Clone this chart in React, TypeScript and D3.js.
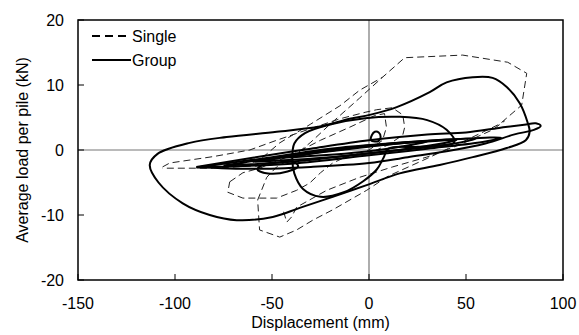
import React from "react";
import * as d3 from "d3";

type P = [number, number];

const xTicks = [-150, -100, -50, 0, 50, 100];
const yTicks = [-20, -10, 0, 10, 20];
const xLabel = "Displacement (mm)";
const yLabel = "Average load per pile (kN)";
const seriesNames = ["Single", "Group"];

// Group (solid) loops
const groupLoopLarge: P[] = [
  [-113, -2.3], [-109, -0.6], [-92.4, 1.1], [-73.4, 2.0], [-47.6, 2.8], [-25.4, 3.6],
  [-10, 4.8], [0.4, 5.4], [14.3, 6.6], [31.3, 8.9], [40, 10.4], [53.5, 11.2],
  [63.7, 11.1], [71, 9.7], [77.7, 7.2], [81.8, 4.2], [82.8, 2.8], [80.8, 1.5],
  [71, 0.3], [53.5, -1.1], [36.4, -2.3], [15.8, -3.6], [-1.2, -5.4], [-18.7, -7.2],
  [-35.7, -8.9], [-49.6, -10.3], [-68.2, -10.8], [-82.1, -10.0], [-96, -8.2], [-108.5, -5.0],
];
const groupLoopMedium: P[] = [
  [44, 1.2], [40, 3.1], [30, 4.6], [16, 5.1], [-2, 4.9], [-19, 4.0], [-33, 2.6],
  [-38.5, 1.0], [-39.5, -1.5], [-38.5, -3.6], [-34, -6.0], [-25, -7.2], [-13, -6.5],
  [-3, -4.8], [4, -3.0], [7.5, -1.2], [10, 0.2], [25, 0.5],
];
const groupLoopSmall: P[] = [
  [-57.5, -3.0], [-54, -2.2], [-46, -1.9], [-39, -1.8], [-36.5, -2.5], [-42, -3.3],
  [-52, -3.6],
];
const groupCurl: P[] = [
  [1, 1.5], [1.5, 2.3], [3, 2.8], [5, 2.7], [6, 2.0], [5, 1.4], [3, 1.3],
];
const groupThinA: P[] = [
  [-89, -2.6], [-60, -1.2], [-30, 0.2], [0, 1.5], [30, 2.4], [50, 2.7], [67, 3.4],
  [80, 3.9], [86, 4.1], [88.5, 3.7], [85, 3.1], [75, 2.4], [60, 1.0], [40, -0.2],
  [20, -1.1], [0, -2.0], [-30, -2.6], [-60, -2.9], [-89, -2.6],
];
const groupThinB: P[] = [
  [-89, -2.7], [-50, -1.1], [-20, 0.2], [10, 1.0], [40, 1.6], [60, 1.9], [68, 1.9],
  [60, 1.3], [30, 0.2], [0, -0.8], [-40, -2.1], [-89, -2.7],
];
const groupThinC: P[] = [
  [-75, -2.4], [-40, -0.8], [0, 0.7], [30, 1.4], [55, 1.7], [40, 0.8], [0, -0.5],
  [-40, -1.8], [-75, -2.4],
];
const groupThinD: P[] = [
  [-60, -1.8], [-20, -0.2], [20, 1.1], [45, 1.5], [20, 0.2], [-20, -1.1], [-60, -1.8],
];
const groupThinE: P[] = [
  [-45, -1.2], [0, 0.6], [30, 1.3], [0, -0.2], [-45, -1.2],
];

// Single (dashed) loops
const singleLoop1: P[] = [
  [-57.4, -7.7], [-52.7, -4.2], [-47.6, -2.6], [-41, -1.5], [-30, 1.2], [-20.3, 3.9],
  [-4.8, 8.0], [7, 11.2], [18.4, 14.2], [48.3, 14.6], [71.5, 13.5], [81.3, 11.8],
  [78.7, 6.9], [67.4, 4.0], [50, 1.5], [30, -1.3], [10, -4.0], [-1.2, -6.2],
  [-18.7, -9.2], [-29, -10.8], [-37.3, -12.3], [-46, -13.4], [-56.4, -12.3], [-57.4, -7.7],
];
const singleLoop2: P[] = [
  [-71.8, -4.9], [-65, -3.5], [-56.4, -2.8], [-40, -0.8], [-25, 1.5], [-10, 3.5],
  [3, 5.3], [8, 5.6], [9, 3.5], [7, 1.5], [0, 0.0], [-10, -0.8], [-18.7, -2.0],
  [-25, -3.5], [-30.6, -5.1], [-37.3, -6.2], [-47.6, -7.4], [-65, -7.4], [-72.8, -6.5],
  [-71.8, -4.9],
];
const singleLoop3: P[] = [
  [-44, -9.5], [-42.4, -11.1], [-39.9, -10.3], [-37.3, -8.8], [-21.8, -6.2], [-4.8, -4.2],
  [12.2, -2.6], [29.7, -1.1], [46.7, 0.8], [63.7, 3.1], [70, 4.5],
];
const singleLoop4: P[] = [
  [-106.4, -2.6], [-102.7, -2.0], [-80, -1.0], [-61.5, 0.0], [-47.6, 1.5], [-30, 3.3],
  [-15, 4.8], [-2, 5.8], [4, 6.2], [12, 6.5], [17.4, 5.4], [18.4, 3.5], [17.4, 2.3],
  [10, 0.8], [0, -0.5], [-20, -1.5], [-50, -2.3], [-80, -2.8], [-106.4, -2.8],
];
const singleArm: P[] = [
  [-55, -1.2], [-46, 1.1], [-30, 4.0], [-15, 6.8], [-4.8, 9.2], [7, 11.2],
];

const groupClosed = [groupLoopLarge, groupLoopMedium, groupLoopSmall, groupCurl];
const groupOpen = [groupThinA, groupThinB, groupThinC, groupThinD, groupThinE];
const singleSeries = [singleLoop1, singleLoop2, singleLoop3, singleLoop4, singleArm];

const W = 579;
const H = 335;
const L = 78, R = 563, T = 20, B = 280;
const FONT = "Arial, 'Liberation Sans', sans-serif";

export default function App() {
  const x = d3.scaleLinear().domain([-150, 100]).range([L, R]);
  const y = d3.scaleLinear().domain([-20, 20]).range([B, T]);

  const closedLine = d3
    .line<P>()
    .x((d) => x(d[0]))
    .y((d) => y(d[1]))
    .curve(d3.curveCatmullRomClosed.alpha(0.5));
  const openSmooth = d3
    .line<P>()
    .x((d) => x(d[0]))
    .y((d) => y(d[1]))
    .curve(d3.curveCatmullRom.alpha(0.5));
  const straight = d3
    .line<P>()
    .x((d) => x(d[0]))
    .y((d) => y(d[1]));

  return (
    <svg
      width={W}
      height={H}
      style={{ position: "fixed", left: 0, top: 0, background: "#fff" }}
      fontFamily={FONT}
    >
      <rect x={0} y={0} width={W} height={H} fill="#fff" />
      {/* zero lines */}
      <line x1={x(0)} x2={x(0)} y1={T} y2={B} stroke="#777" strokeWidth={1.2} />
      <line x1={L} x2={R} y1={y(0)} y2={y(0)} stroke="#777" strokeWidth={1.2} />

      {/* single dashed */}
      {singleSeries.map((s, i) => (
        <path
          key={"s" + i}
          d={straight(s) || ""}
          fill="none"
          stroke="#222"
          strokeWidth={1}
          strokeDasharray="7,4"
        />
      ))}

      {/* group solid */}
      {groupOpen.map((s, i) => (
        <path key={"go" + i} d={openSmooth(s) || ""} fill="none" stroke="#000" strokeWidth={2} />
      ))}
      {groupClosed.map((s, i) => (
        <path key={"gc" + i} d={closedLine(s) || ""} fill="none" stroke="#000" strokeWidth={2} />
      ))}

      {/* frame */}
      <rect x={L} y={T} width={R - L} height={B - T} fill="none" stroke="#000" strokeWidth={1.5} />

      {/* ticks */}
      {xTicks.map((t) => (
        <g key={"xt" + t}>
          <line x1={x(t)} x2={x(t)} y1={B} y2={B - 6} stroke="#000" strokeWidth={1} />
          <text x={x(t)} y={309} textAnchor="middle" fontSize={16} fill="#000">
            {t}
          </text>
        </g>
      ))}
      {yTicks.map((t) => (
        <g key={"yt" + t}>
          <line x1={L} x2={L + 6} y1={y(t)} y2={y(t)} stroke="#000" strokeWidth={1} />
          <text x={64} y={y(t)} dy="0.35em" textAnchor="end" fontSize={16} fill="#000">
            {t}
          </text>
        </g>
      ))}

      {/* axis titles */}
      <text x={(L + R) / 2} y={328} textAnchor="middle" fontSize={16} fill="#000">
        {xLabel}
      </text>
      <text
        transform={`translate(28,${(T + B) / 2}) rotate(-90)`}
        textAnchor="middle"
        fontSize={16}
        fill="#000"
      >
        {yLabel}
      </text>

      {/* legend */}
      <line x1={92} x2={128} y1={36} y2={36} stroke="#000" strokeWidth={2} strokeDasharray="8,5" />
      <text x={132} y={36} dy="0.35em" fontSize={16} fill="#000">
        {seriesNames[0]}
      </text>
      <line x1={92} x2={131} y1={60} y2={60} stroke="#000" strokeWidth={2} />
      <text x={132} y={60} dy="0.35em" fontSize={16} fill="#000">
        {seriesNames[1]}
      </text>
    </svg>
  );
}
